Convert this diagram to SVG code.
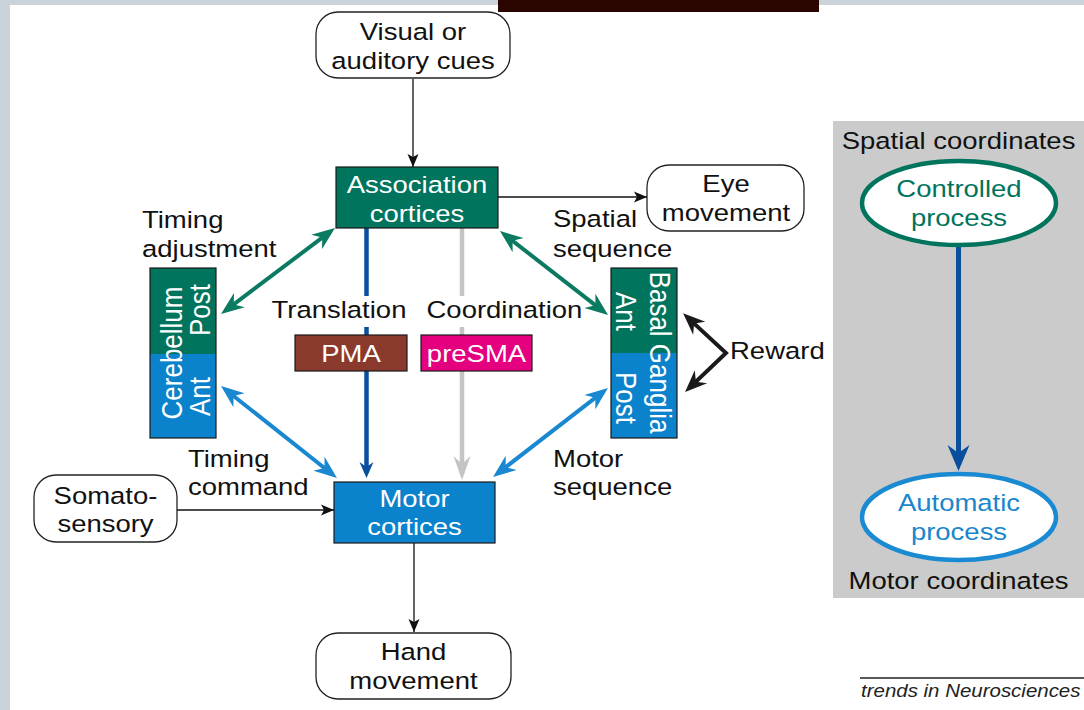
<svg xmlns="http://www.w3.org/2000/svg" width="1084" height="710" viewBox="0 0 1084 710">
<style>
.t{font-family:"Liberation Sans",Arial,sans-serif;font-size:23.5px;fill:#111}
.m{text-anchor:middle}
.w{fill:#fff}
.r{font-size:26px}
.rb{fill:#fff;stroke:#222;stroke-width:1.3}
.bx{stroke:#1a1a1a;stroke-width:1.2}
.k{fill:none;stroke:#111;stroke-width:1.3}
</style>
<defs>
<marker id="ahK" markerUnits="userSpaceOnUse" orient="auto" overflow="visible" refX="0" refY="0" markerWidth="1" markerHeight="1"><path d="M0,0 L-13,-5.5 L-10,0 L-13,5.5 Z" fill="#111"/></marker>
<marker id="ahG" markerUnits="userSpaceOnUse" orient="auto-start-reverse" overflow="visible" refX="-6" refY="0" markerWidth="1" markerHeight="1"><path d="M0,0 L-23,-9 L-16,0 L-23,9 Z" fill="#0a7a60"/></marker>
<marker id="ahB" markerUnits="userSpaceOnUse" orient="auto-start-reverse" overflow="visible" refX="-6" refY="0" markerWidth="1" markerHeight="1"><path d="M0,0 L-23,-9 L-16,0 L-23,9 Z" fill="#1a88d0"/></marker>
<marker id="ahR" markerUnits="userSpaceOnUse" orient="auto-start-reverse" overflow="visible" refX="-6" refY="0" markerWidth="1" markerHeight="1"><path d="M0,0 L-22,-9 L-15,0 L-22,9 Z" fill="#1a1a1a"/></marker>
<marker id="ahD" markerUnits="userSpaceOnUse" orient="auto" overflow="visible" refX="-5" refY="0" markerWidth="1" markerHeight="1"><path d="M0,0 L-16,-7 L-11,0 L-16,7 Z" fill="#0a4f9e"/></marker>
<marker id="ahS" markerUnits="userSpaceOnUse" orient="auto" overflow="visible" refX="-6" refY="0" markerWidth="1" markerHeight="1"><path d="M0,0 L-24,-8.5 L-16,0 L-24,8.5 Z" fill="#c4c4c4"/></marker>
<marker id="ahP" markerUnits="userSpaceOnUse" orient="auto" overflow="visible" refX="-6" refY="0" markerWidth="1" markerHeight="1"><path d="M0,0 L-26,-11 L-18,0 L-26,11 Z" fill="#0a4f9e"/></marker>
</defs>

<!-- page background -->
<rect x="0" y="0" width="1084" height="710" fill="#c9d3d9"/>
<rect x="10" y="5" width="1074" height="705" fill="#fff"/>
<rect x="498" y="0" width="321" height="12" fill="#2b0600"/>

<!-- right panel background -->
<rect x="833" y="121" width="251" height="477" fill="#cbcbcb"/>

<g id="connectors">
  <path class="k" d="M413,79 V167" marker-end="url(#ahK)"/>
  <path class="k" d="M498,197 H647" marker-end="url(#ahK)"/>
  <path class="k" d="M177,510 H334" marker-end="url(#ahK)"/>
  <path class="k" d="M414,543 V632" marker-end="url(#ahK)"/>
  <path d="M225.8,310.4 L330.2,231.6" fill="none" stroke="#0a7a60" stroke-width="4" marker-start="url(#ahG)" marker-end="url(#ahG)"/>
  <path d="M504.7,234.7 L603.3,311.3" fill="none" stroke="#0a7a60" stroke-width="4" marker-start="url(#ahG)" marker-end="url(#ahG)"/>
  <path d="M225.7,389.7 L332.3,474.3" fill="none" stroke="#1a88d0" stroke-width="4" marker-start="url(#ahB)" marker-end="url(#ahB)"/>
  <path d="M603.25,391.7 L497.75,473.3" fill="none" stroke="#1a88d0" stroke-width="4" marker-start="url(#ahB)" marker-end="url(#ahB)"/>
  <path d="M687.5,317.4 L726,353 L689.4,387.9" fill="none" stroke="#1a1a1a" stroke-width="4" stroke-linejoin="miter" marker-start="url(#ahR)" marker-end="url(#ahR)"/>
  <path d="M366.5,228 V296" fill="none" stroke="#0a4f9e" stroke-width="4.5"/>
  <path d="M366.5,327 V473" fill="none" stroke="#0a4f9e" stroke-width="4.5" marker-end="url(#ahD)"/>
  <path d="M462,228 V296" fill="none" stroke="#c4c4c4" stroke-width="4.5"/>
  <path d="M462,327 V474" fill="none" stroke="#c4c4c4" stroke-width="4.5" marker-end="url(#ahS)"/>
  <path d="M958.5,247 V465" fill="none" stroke="#0a4f9e" stroke-width="5" marker-end="url(#ahP)"/>
</g>

<g id="visual">
  <rect class="rb" x="316" y="12" width="194" height="66" rx="22"/>
  <text class="t m" transform="translate(413 40) scale(1.17 1)">Visual or</text>
  <text class="t m" transform="translate(413 69) scale(1.17 1)">auditory cues</text>
</g>

<g id="association">
  <rect class="bx" x="336" y="167" width="162" height="61" fill="#00745c"/>
  <text class="t m w" transform="translate(417 193) scale(1.17 1)">Association</text>
  <text class="t m w" transform="translate(417 222) scale(1.17 1)">cortices</text>
</g>

<g id="eye">
  <rect class="rb" x="647" y="165" width="157" height="66" rx="22"/>
  <text class="t m" transform="translate(726 192) scale(1.17 1)">Eye</text>
  <text class="t m" transform="translate(726 221) scale(1.17 1)">movement</text>
</g>

<g id="cerebellum">
  <rect x="150" y="268" width="66" height="86" fill="#00745c"/>
  <rect x="150" y="354" width="66" height="84" fill="#0a82cc"/>
  <rect class="bx" x="150" y="268" width="66" height="170" fill="none"/>
  <text class="t m w r" transform="translate(182 353) scale(1.17 1) rotate(-90)">Cerebellum</text>
  <text class="t m w r" transform="translate(210 310) scale(1.17 1) rotate(-90)">Post</text>
  <text class="t m w r" transform="translate(210 396.5) scale(1.17 1) rotate(-90)">Ant</text>
</g>

<g id="basal-ganglia">
  <rect x="611" y="268" width="66" height="85" fill="#00745c"/>
  <rect x="611" y="353" width="66" height="85" fill="#0a82cc"/>
  <rect class="bx" x="611" y="268" width="66" height="170" fill="none"/>
  <text class="t m w r" transform="translate(650 352.5) scale(1.17 1) rotate(90)">Basal Ganglia</text>
  <text class="t m w r" transform="translate(616 311.5) scale(1.17 1) rotate(90)">Ant</text>
  <text class="t m w r" transform="translate(616 398) scale(1.17 1) rotate(90)">Post</text>
</g>

<g id="pma">
  <rect class="bx" x="295" y="335" width="112" height="36" fill="#8a3a2c"/>
  <text class="t m w" transform="translate(351 361.5) scale(1.17 1)">PMA</text>
</g>

<g id="presma">
  <rect class="bx" x="421" y="335" width="111" height="36" fill="#e4007f"/>
  <text class="t m w" transform="translate(476.5 361.5) scale(1.17 1)">preSMA</text>
</g>

<g id="motor">
  <rect class="bx" x="334" y="482" width="161" height="61" fill="#0a82cc"/>
  <text class="t m w" transform="translate(414.5 507) scale(1.17 1)">Motor</text>
  <text class="t m w" transform="translate(414.5 535) scale(1.17 1)">cortices</text>
</g>

<g id="somatosensory">
  <rect class="rb" x="34" y="475" width="143" height="67" rx="22"/>
  <text class="t m" transform="translate(105.5 503.5) scale(1.17 1)">Somato-</text>
  <text class="t m" transform="translate(105.5 532) scale(1.17 1)">sensory</text>
</g>

<g id="hand">
  <rect class="rb" x="316" y="633" width="195" height="66" rx="22"/>
  <text class="t m" transform="translate(413.5 660) scale(1.17 1)">Hand</text>
  <text class="t m" transform="translate(413.5 689) scale(1.17 1)">movement</text>
</g>

<g id="labels">
  <text class="t" transform="translate(142 228) scale(1.17 1)">Timing</text>
  <text class="t" transform="translate(142 257) scale(1.17 1)">adjustment</text>
  <text class="t" transform="translate(271.5 318) scale(1.17 1)">Translation</text>
  <text class="t" transform="translate(426.5 318) scale(1.17 1)">Coordination</text>
  <text class="t" transform="translate(553 227) scale(1.17 1)">Spatial</text>
  <text class="t" transform="translate(553 256.5) scale(1.17 1)">sequence</text>
  <text class="t" transform="translate(730 358.5) scale(1.17 1)">Reward</text>
  <text class="t" transform="translate(188 467) scale(1.17 1)">Timing</text>
  <text class="t" transform="translate(188 495) scale(1.17 1)">command</text>
  <text class="t" transform="translate(553 467) scale(1.17 1)">Motor</text>
  <text class="t" transform="translate(553 495) scale(1.17 1)">sequence</text>
</g>

<g id="panel">
  <text class="t m" transform="translate(958.5 148.5) scale(1.17 1)">Spatial coordinates</text>
  <text class="t m" transform="translate(958.5 588.5) scale(1.17 1)">Motor coordinates</text>
</g>

<g id="controlled">
  <ellipse cx="959" cy="203" rx="97" ry="42" fill="#fff" stroke="#00745c" stroke-width="4.5"/>
  <text class="t m" style="fill:#00745c" transform="translate(959 197) scale(1.17 1)">Controlled</text>
  <text class="t m" style="fill:#00745c" transform="translate(959 226) scale(1.17 1)">process</text>
</g>

<g id="automatic">
  <ellipse cx="959" cy="517" rx="97" ry="43" fill="#fff" stroke="#1a8ad2" stroke-width="4.5"/>
  <text class="t m" style="fill:#1a86cc" transform="translate(959 511) scale(1.17 1)">Automatic</text>
  <text class="t m" style="fill:#1a86cc" transform="translate(959 540) scale(1.17 1)">process</text>
</g>

<g id="footer">
  <line x1="860" y1="678" x2="1084" y2="678" stroke="#222" stroke-width="1.3"/>
  <text class="t" style="font-size:17.5px;font-style:italic;fill:#222" transform="translate(861 697) scale(1.17 1)">trends in Neurosciences</text>
</g>
</svg>
